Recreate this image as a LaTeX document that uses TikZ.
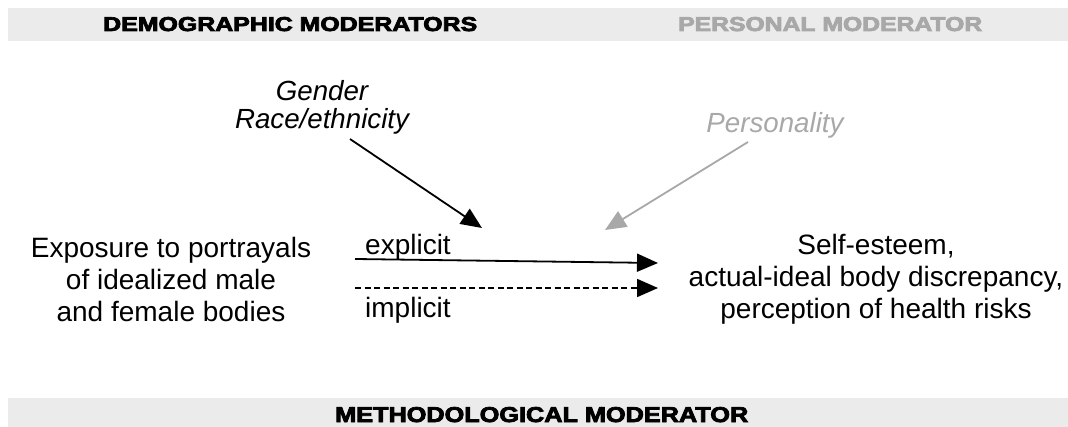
\documentclass[tikz,border=0pt]{standalone}
\usepackage{fontspec}
\usepackage{graphicx}
\setmainfont{Liberation Sans}
\usetikzlibrary{arrows.meta}
\definecolor{barfill}{HTML}{EBEBEB}
\definecolor{softgray}{HTML}{A8A8A8}
% heavier caps: fill and outline the glyphs
\newcommand\heavycaps[1]{\special{pdf:literal direct 2 Tr 0.35 w}#1\special{pdf:literal direct 0 Tr}}
\tikzset{
  bar/.style={fill=barfill, draw=none},
  header/.style={font=\bfseries, inner sep=0pt, anchor=base west},
  body/.style={font=\fontsize{28}{32}\selectfont, align=center, inner sep=0pt},
  modlabel/.style={font=\fontsize{27.7}{28}\selectfont\itshape, align=center, inner sep=0pt},
  tag/.style={font=\fontsize{28}{32}\selectfont, inner sep=0pt, anchor=base west},
  link/.style={line width=1.8pt, -{Triangle[length=21pt,width=18pt]}},
}
\begin{document}
\begin{tikzpicture}[x=1pt, y=-1pt]
\useasboundingbox (0,0) rectangle (1068,427);
% header bars
\fill[bar] (8,8) rectangle (1068,41);
\fill[bar] (8,398) rectangle (1068,427);
\node[header] (demo) at (103,31) {\resizebox{374pt}{14pt}{\heavycaps{DEMOGRAPHIC MODERATORS}}};
\node[header, text=softgray] (pers) at (678,31) {\resizebox{304pt}{14pt}{\heavycaps{PERSONAL MODERATOR}}};
\node[header] (meth) at (335,422) {\resizebox{413pt}{15pt}{\heavycaps{METHODOLOGICAL MODERATOR}}};
% moderators
\node[modlabel] (demog) at (322,107) {Gender\\Race/ethnicity};
\node[modlabel, text=softgray, anchor=base] (persn) at (775,133) {Personality};
% main variables
\node[body] (expo) at (171,279) {Exposure to portrayals\\of idealized male\\and female bodies};
\node[body] (outc) at (876,279) {Self-esteem,\\actual-ideal body discrepancy,\\perception of health risks};
% path labels
\node[tag] (expl) at (365,255) {explicit};
\node[tag] (impl) at (365,318) {implicit};
% connectors
\coordinate (es) at (355,259);
\coordinate (ee) at (658,263);
\coordinate (is) at (355,288);
\coordinate (ie) at (658,288);
\coordinate (gs) at (350,139);
\coordinate (ge) at (482,228);
\coordinate (ps) at (748,142);
\coordinate (pe) at (605,230);
\draw[link] (es) -- (ee);
\draw[link, dash pattern=on 6pt off 3.5pt] (is) -- (ie);
\draw[link] (gs) -- (ge);
\draw[link, draw=softgray, fill=softgray] (ps) -- (pe);
\end{tikzpicture}
\end{document}
